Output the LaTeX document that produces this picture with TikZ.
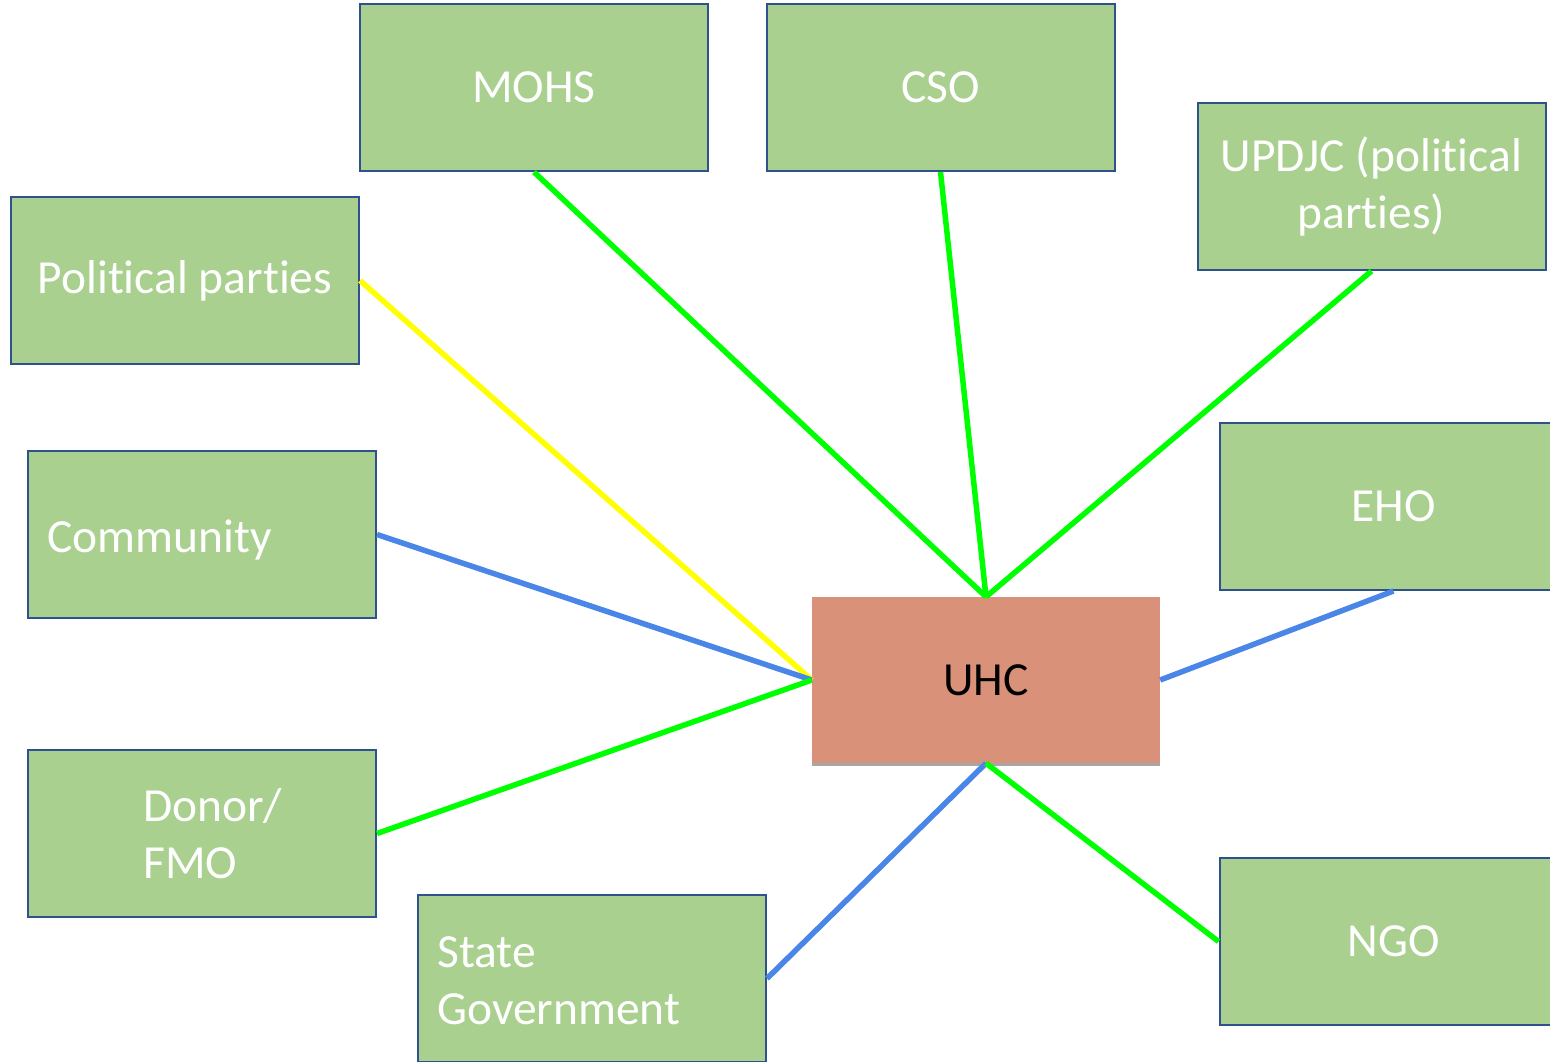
\documentclass[tikz,border=0pt]{standalone}
\usepackage{fontspec}
\setmainfont{Carlito}[RawFeature={-liga;-clig;-calt;-dlig}]
\usepackage{tikz}
\usetikzlibrary{shadows}

\begin{document}
\begin{tikzpicture}[x=1pt,y=1pt,yscale=-1,
    actor/.style={draw={rgb, 255:red, 47; green, 82; blue, 143}, line width=2pt,
      fill={rgb, 255:red, 169; green, 208; blue, 142}, minimum width=348pt, minimum height=167pt,
      text=white, font=\fontsize{47.5}{57}\selectfont, align=center, inner sep=0pt},
    lbl/.style={text=white, font=\fontsize{47.5}{57}\selectfont, align=left, inner sep=0pt},
    hub/.style={fill={rgb, 255:red, 218; green, 145; blue, 121}, minimum width=348pt, minimum height=166pt,
      font=\fontsize{47.5}{57}\selectfont, inner sep=0pt,
      drop shadow={shadow xshift=0pt, shadow yshift=-3pt, opacity=0.35, fill=black}},
    grnlink/.style={draw={rgb, 255:red, 0; green, 255; blue, 0}, line width=5.5pt},
    yellink/.style={draw={rgb, 255:red, 255; green, 255; blue, 0}, line width=5.5pt},
    bluelink/.style={draw={rgb, 255:red, 74; green, 134; blue, 232}, line width=5.5pt}]
  \useasboundingbox (0,0) rectangle (1550,1061);
  \clip (0,0) rectangle (1550,1061);

  %Shape: Rectangle [MOHS]
  \node [actor] (mohs) at (534,87.5) {MOHS};
  %Shape: Rectangle [CSO]
  \node [actor] (cso) at (940.5,87.5) {CSO};
  %Shape: Rectangle [UPDJC]
  \node [actor] (updjc) at (1371.5,186.5) {UPDJC (political\\parties)};
  %Shape: Rectangle [Political parties]
  \node [actor] (polparties) at (185,280.5) {Political parties};
  %Shape: Rectangle [Community]
  \node [actor] (community) at (202,534.5) {};
  % Text Node
  \node [lbl, anchor=west] (communitytext) at ([xshift=20pt,yshift=5pt]community.west) {Community};
  %Shape: Rectangle [EHO]
  \node [actor] (eho) at (1393.5,506.5) {EHO};
  %Shape: Rectangle [Donor]
  \node [actor] (donor) at (202,833.5) {};
  % Text Node
  \node [lbl, anchor=west] (donortext) at ([xshift=116pt,yshift=0pt]donor.west) {Donor/\\FMO};
  %Shape: Rectangle [State Government]
  \node [actor] (stategov) at (592,978.5) {};
  % Text Node
  \node [lbl, anchor=west] (stategovtext) at ([xshift=20pt,yshift=2pt]stategov.west) {State\\Government};
  %Shape: Rectangle [NGO]
  \node [actor] (ngo) at (1393.5,941.5) {NGO};

  %Shape: Rectangle [UHC]
  \node [hub] (uhc) at (986,680) {UHC};

  %Straight Lines
  \draw [grnlink] (mohs.south) -- (uhc.north);
  \draw [grnlink] (cso.south) -- (uhc.north);
  \draw [grnlink] (updjc.south) -- (uhc.north);
  \draw [yellink] (polparties.east) -- (uhc.west);
  \draw [bluelink] (community.east) -- (uhc.west);
  \draw [grnlink] (donor.east) -- (uhc.west);
  \draw [bluelink] (eho.south) -- (uhc.east);
  \draw [bluelink] (stategov.east) -- (uhc.south);
  \draw [grnlink] (ngo.west) -- (uhc.south);
\end{tikzpicture}
\end{document}
